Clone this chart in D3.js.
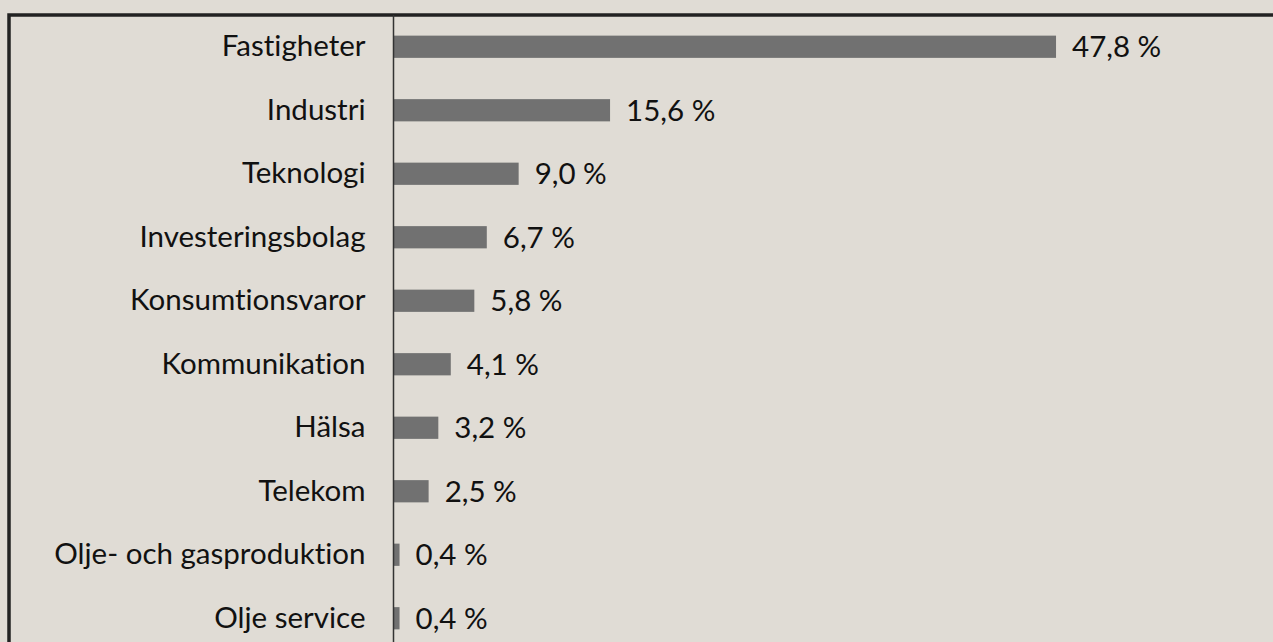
<!DOCTYPE html>
<html>
<head>
<meta charset="utf-8">
<script src="https://cdn.jsdelivr.net/npm/d3@7"></script>
<style>
  body { margin: 0; background: #e0dcd5; }
  svg { display: block; }
  text { font-family: Lato, "Noto Sans", sans-serif; fill: #111; font-variant-ligatures: none; }
</style>
</head>
<body>
<svg width="1273" height="642"></svg>
<script>
const svg = d3.select("svg");
const W = 1273, H = 642;

// sector weights (%)
const sectors = ["Fastigheter", "Industri", "Teknologi", "Investeringsbolag", "Konsumtionsvaror",
  "Kommunikation", "Hälsa", "Telekom", "Olje- och gasproduktion", "Olje service"];
const weights = [47.8, 15.6, 9.0, 6.7, 5.8, 4.1, 3.2, 2.5, 0.4, 0.4];

const data = sectors.map((s, i) => ({ name: s, value: weights[i] }));
const fmt = v => v.toFixed(1).replace(".", ",") + " %";
const fontSize = "29.5px";

const x0 = 394;
const x = d3.scaleLinear().domain([0, 50]).range([x0, x0 + 50 * 13.85]);
const y = d3.scaleBand()
  .domain(sectors)
  .range([15, 650])
  .paddingInner(0.65)
  .paddingOuter(0.325);

svg.append("rect")
  .attr("width", W).attr("height", H)
  .attr("fill", "#e0dcd5");

// frame
svg.append("rect")
  .attr("x", 9).attr("y", 15)
  .attr("width", W + 20).attr("height", H + 20)
  .attr("fill", "none")
  .attr("stroke", "#222")
  .attr("stroke-width", 3.5);

svg.selectAll(".bar")
  .data(data)
  .enter().append("rect")
  .attr("class", "bar")
  .attr("x", x(0))
  .attr("y", d => y(d.name))
  .attr("width", d => x(d.value) - x(0))
  .attr("height", y.bandwidth())
  .attr("fill", "#717171");

// category axis
const axis = svg.append("g")
  .attr("transform", "translate(" + (x0 - 0.5) + ",0)")
  .call(d3.axisLeft(y).tickSize(0).tickPadding(28));
axis.select(".domain")
  .attr("d", "M0,15V" + H)
  .attr("stroke", "#333")
  .attr("stroke-width", 1.5);
axis.selectAll("text")
  .style("font-family", "Lato, 'Noto Sans', sans-serif")
  .style("font-size", fontSize)
  .attr("fill", "#111");

svg.selectAll(".val")
  .data(data)
  .enter().append("text")
  .attr("class", "val")
  .attr("x", d => x(d.value) + 16)
  .attr("y", d => y(d.name) + y.bandwidth() / 2)
  .attr("dy", "0.35em")
  .style("font-size", fontSize)
  .text(d => fmt(d.value));
</script>
</body>
</html>
